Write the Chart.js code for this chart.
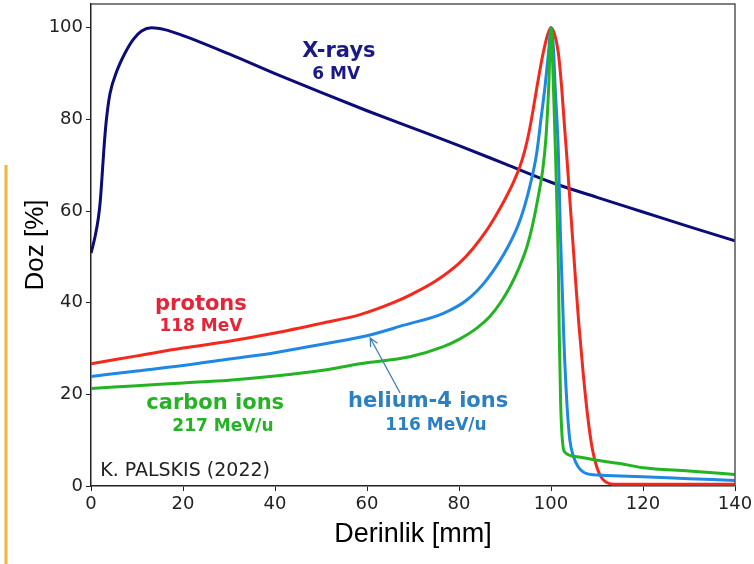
<!DOCTYPE html>
<html>
<head>
<meta charset="utf-8">
<title>Derinlik - Doz</title>
<script src="https://cdn.jsdelivr.net/npm/chart.js@4.4.1/dist/chart.umd.min.js"></script>
<style>
  html, body { margin: 0; padding: 0; background: #fff; }
  canvas { display: block; }
</style>
</head>
<body>
<canvas id="dozChart" width="754" height="564"></canvas>
<script>
// tick labels
const xTicks = [0, 20, 40, 60, 80, 100, 120, 140];
const yTicks = [0, 20, 40, 60, 80, 100];

// X-rays 6 MV (derinlik mm / doz %)
const xrayDepth = [0, 0.9, 1.6, 2.0, 2.4, 2.8, 3.3, 4.1, 5.6, 7.4, 9.2, 11, 13.2, 16, 20, 30, 40, 50, 60, 70, 80, 90, 100, 110, 120, 130, 140];
const xrayDose  = [50.8, 54.5, 58.5, 62, 67.5, 73.5, 79.5, 85.5, 90.5, 94.5, 97.5, 99.3, 100, 99.6, 98.3, 94.3, 90, 85.9, 81.9, 78.1, 74.3, 70.3, 66.3, 63, 59.8, 56.6, 53.5];

// protons 118 MeV
const protonDepth = [0, 10, 20, 30, 40, 50, 58.5, 65.7, 70, 75, 80, 83, 86, 88, 90, 91.7, 93.2, 94.3, 95.3, 96.2, 97.1, 98.3, 99.3, 100, 100.8, 101.6, 102.3, 102.9, 103.5, 104.1, 104.7, 105.3, 106, 107, 108, 109, 110, 111, 112, 113.5, 140];
const protonDose  = [26.7, 28.4, 30.1, 31.6, 33.4, 35.5, 37.4, 40, 42, 44.8, 48.6, 51.8, 55.8, 59, 62.6, 66, 69.6, 73.2, 77.6, 82.6, 88, 94.5, 98.6, 100, 98.5, 94.5, 87.2, 79, 71, 62.5, 54, 45.5, 36, 24.6, 15, 8, 4, 1.8, 0.8, 0.4, 0.4];

// helium-4 ions 116 MeV/u
const heliumDepth = [0, 10, 20, 30, 40, 50, 60, 68, 76.6, 81.7, 86, 90.8, 93.3, 95.4, 96.9, 97.8, 98.7, 99.5, 100, 100.5, 100.9, 101.6, 102.05, 102.8, 103.5, 104.1, 104.9, 105.9, 107.8, 112, 120, 130, 140];
const heliumDose  = [23.9, 25.1, 26.3, 27.7, 29.1, 30.9, 32.8, 35.1, 37.7, 40.6, 45, 52.5, 58.1, 65.4, 72.7, 79.9, 87.2, 95, 100, 96, 87.2, 72.7, 55, 31.9, 17.3, 10, 6.4, 4.2, 2.7, 2.3, 2.0, 1.6, 1.2];

// carbon ions 217 MeV/u
const carbonDepth = [0, 10, 20, 30, 40, 50, 58.5, 69.3, 76.6, 80, 83.8, 86.7, 89, 91.1, 93, 94.7, 96, 97.2, 98.2, 98.9, 99.5, 100, 100.5, 101, 101.4, 101.6, 101.8, 102.1, 102.4, 102.9, 105.6, 110, 115, 120, 130, 140];
const carbonDose  = [21.3, 21.9, 22.5, 23.1, 24, 25.2, 26.7, 28.2, 30.4, 32, 34.4, 37, 40, 43.5, 47.5, 52, 57, 63, 69, 76, 87, 100, 88, 72, 57, 48, 33, 18, 11, 7.5, 6.4, 5.6, 4.9, 4.0, 3.3, 2.5];

const toPoints = (xs, ys) => xs.map((x, i) => ({ x: x, y: ys[i] }));

const FONT = '"DejaVu Sans", Verdana, sans-serif';
const AXIS_FONT = '"Liberation Sans", Arial, sans-serif';

function lineSet(label, xs, ys, color) {
  return {
    label: label,
    data: toPoints(xs, ys),
    borderColor: color,
    borderWidth: 3,
    pointRadius: 0,
    fill: false,
    cubicInterpolationMode: 'monotone'
  };
}

// texts, arrow, frame and the orange bar on the left
const annotations = {
  id: 'annotations',
  afterDatasetsDraw(chart) {
    const { ctx, chartArea, scales: { x, y } } = chart;
    ctx.save();

    // top + right side of the frame (left/bottom are the axes)
    ctx.strokeStyle = '#555';
    ctx.lineWidth = 1.5;
    ctx.beginPath();
    ctx.moveTo(chartArea.left, chartArea.top);
    ctx.lineTo(chartArea.right, chartArea.top);
    ctx.lineTo(chartArea.right, chartArea.bottom);
    ctx.stroke();

    // orange bar at the page border
    ctx.fillStyle = '#f2b53b';
    ctx.fillRect(4.5, 165, 3, 399);

    const labels = [
      ['X-rays', 53.9, 94.8, 'bold 21px', '#1a1a86'],
      ['6 MV', 53.3, 89.7, 'bold 17px', '#1a1a86'],
      ['protons', 23.9, 39.5, 'bold 21px', '#e52535'],
      ['118 MeV', 23.9, 34.7, 'bold 17px', '#e52535'],
      ['carbon ions', 27, 18, 'bold 21px', '#25b325'],
      ['217 MeV/u', 28.7, 12.9, 'bold 17px', '#25b325'],
      ['helium-4 ions', 73.3, 18.4, 'bold 21px', '#2a80c2'],
      ['116 MeV/u', 75, 13.1, 'bold 17px', '#2a80c2']
    ];
    ctx.textAlign = 'center';
    ctx.textBaseline = 'middle';
    labels.forEach(l => {
      ctx.font = l[3] + ' ' + FONT;
      ctx.fillStyle = l[4];
      ctx.fillText(l[0], x.getPixelForValue(l[1]), y.getPixelForValue(l[2]));
    });

    ctx.font = '19px ' + FONT;
    ctx.fillStyle = '#222';
    ctx.textAlign = 'left';
    ctx.fillText('K. PALSKIS (2022)', x.getPixelForValue(2), y.getPixelForValue(3.3));

    // arrow from the helium label to its curve
    const x0 = x.getPixelForValue(67.2), y0 = y.getPixelForValue(20.3);
    const x1 = x.getPixelForValue(60.7), y1 = y.getPixelForValue(32.3);
    const ang = Math.atan2(y1 - y0, x1 - x0);
    ctx.strokeStyle = '#3a7fb5';
    ctx.lineWidth = 1.3;
    ctx.beginPath();
    ctx.moveTo(x0, y0);
    ctx.lineTo(x1, y1);
    ctx.moveTo(x1 - 9 * Math.cos(ang - 0.45), y1 - 9 * Math.sin(ang - 0.45));
    ctx.lineTo(x1, y1);
    ctx.lineTo(x1 - 9 * Math.cos(ang + 0.45), y1 - 9 * Math.sin(ang + 0.45));
    ctx.stroke();

    ctx.restore();
  }
};

new Chart(document.getElementById('dozChart'), {
  type: 'line',
  data: {
    datasets: [
      lineSet('carbon ions', carbonDepth, carbonDose, '#22b422'),
      lineSet('helium-4 ions', heliumDepth, heliumDose, '#1f88e2'),
      lineSet('protons', protonDepth, protonDose, '#f4291d'),
      lineSet('X-rays', xrayDepth, xrayDose, '#0c0c78')
    ]
  },
  options: {
    responsive: false,
    animation: false,
    layout: { padding: { left: 0, right: 19, top: 4, bottom: 0 } },
    plugins: {
      legend: { display: false },
      tooltip: { enabled: false }
    },
    scales: {
      x: {
        type: 'linear',
        min: 0,
        max: 140,
        afterBuildTicks: s => { s.ticks = xTicks.map(v => ({ value: v })); },
        afterFit: s => { s.height = 78; s.paddingLeft = 0; s.paddingRight = 0; },
        grid: { drawOnChartArea: false, tickLength: 5, color: '#222' },
        border: { color: '#222', width: 1.5 },
        ticks: { color: '#222', font: { family: FONT, size: 18 }, maxRotation: 0, autoSkip: false, padding: 3 },
        title: { display: true, text: 'Derinlik [mm]', color: '#000', font: { family: AXIS_FONT, size: 27 }, padding: { top: 0, bottom: 13 } }
      },
      y: {
        min: 0,
        max: 105.2,
        afterBuildTicks: s => { s.ticks = yTicks.map(v => ({ value: v })); },
        afterFit: s => { s.width = 91; s.paddingTop = 0; s.paddingBottom = 0; },
        grid: { drawOnChartArea: false, tickLength: 5, color: '#222' },
        border: { color: '#222', width: 1.5 },
        ticks: { color: '#222', font: { family: FONT, size: 18 }, padding: 3 },
        title: { display: true, text: 'Doz [%]', color: '#000', font: { family: AXIS_FONT, size: 26 }, padding: { top: 20, bottom: 0 } }
      }
    }
  },
  plugins: [annotations]
});
</script>
</body>
</html>
